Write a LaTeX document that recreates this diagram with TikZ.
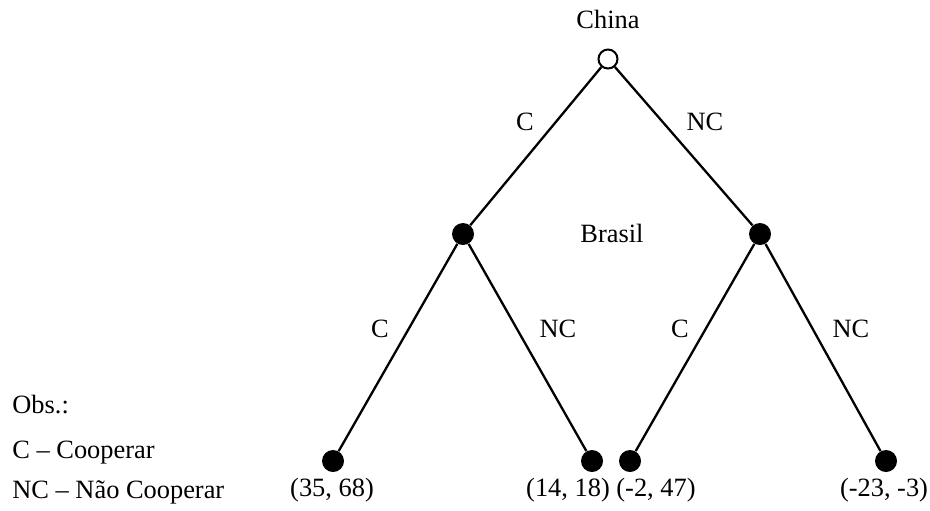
\documentclass[tikz,border=0pt]{standalone}
\usepackage{fontspec}
\setmainfont{Liberation Serif}
\begin{document}
\begin{tikzpicture}[x=0.5pt,y=-0.5pt,
  dot/.style={circle,fill,inner sep=0pt,minimum size=11pt},
  opendot/.style={circle,draw,line width=1pt,fill=white,inner sep=0pt,minimum size=9.5pt},
  lbl/.style={font=\fontsize{13.2}{16}\selectfont,inner sep=0pt}]
  \useasboundingbox (0,0) rectangle (930,510);
  % decision nodes
  \node[opendot] (china) at (608,59) {};
  \node[dot] (bl) at (463,234) {};
  \node[dot] (br) at (760,234) {};
  \node[lbl] (chinalbl) at (608,19) {China};
  \node[lbl] (brasillbl) at (612,233) {Brasil};
  % terminal nodes
  \foreach \x/\n in {333/ll,592/lr,630/rl,886/rr}
    \node[dot] (\n) at (\x,461) {};
  \draw[line width=1.15pt] (china) -- (bl) (china) -- (br)
    (bl) -- (ll) (bl) -- (lr) (br) -- (rl) (br) -- (rr);
  % actions
  \node[lbl] (ac1) at (525,122) {C};
  \node[lbl] (an1) at (705,122) {NC};
  \node[lbl] (ac2) at (380,329) {C};
  \node[lbl] (an2) at (558,329) {NC};
  \node[lbl] (ac3) at (680,329) {C};
  \node[lbl] (an3) at (851,329) {NC};
  % payoffs
  \foreach \x/\p/\n in {332/{(35, 68)}/pll,568/{(14, 18)}/plr,656/{(-2, 47)}/prl,884/{(-23, -3)}/prr}
    \node[lbl] (\n) at (\x,490) {\p};
  % legend
  \node[lbl,anchor=west] (obs) at (12,405) {Obs.:};
  \node[lbl,anchor=west] (obsc) at (12,453) {C -- Cooperar};
  \node[lbl,anchor=west] (obsnc) at (12,492) {NC -- Não Cooperar};
\end{tikzpicture}
\end{document}
